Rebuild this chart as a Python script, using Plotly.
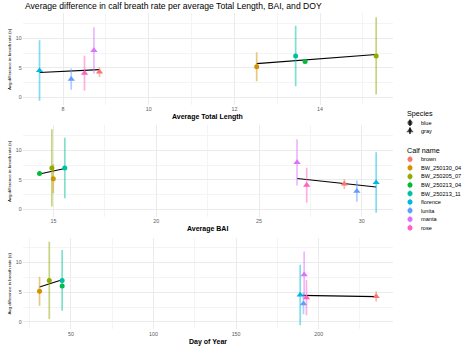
import plotly.graph_objects as go

# ---- data -------------------------------------------------------------
calves = ["brown", "BW_250130_04", "BW_250205_07", "BW_250213_04", "BW_250213_11",
          "florence", "lunita", "manta", "rose"]
species = ["gray", "blue", "blue", "blue", "blue", "gray", "gray", "gray", "gray"]
calf_colors = ["#F8766D", "#D39200", "#93AA00", "#00BA38", "#00C19F",
               "#00B9E3", "#619CFF", "#DB72FB", "#FF61C3"]

avg_diff = [4.3, 5.18, 7.0, 6.05, 7.0, 4.55, 3.1, 7.95, 4.1]
sd_diff = [0.85, 2.45, 6.5, None, 5.1, 5.1, 1.8, 3.9, 2.95]

avg_tl = [8.85, 12.52, 15.31, 13.65, 13.43, 7.45, 8.19, 8.72, 8.50]
avg_bai = [29.15, 14.99, 14.92, 14.32, 15.55, 30.70, 29.76, 26.85, 27.32]
avg_doy = [234.8, 31.0, 36.9, 44.7, 44.7, 188.8, 190.8, 191.2, 192.6]

# fitted trend values at each species' min and max x
trend_tl = {"blue": [5.72, 7.24], "gray": [4.21, 4.71]}
trend_bai = {"blue": [6.0, 6.9], "gray": [5.23, 3.81]}
trend_doy = {"blue": [5.88, 7.1], "gray": [4.48, 4.27]}

tl_ticks = [8, 10, 12, 14]
bai_ticks = [15, 20, 25, 30]
doy_ticks = [50, 100, 150, 200]
y_ticks = [0, 5, 10]

species_names = ["blue", "gray"]
species_symbols = {"blue": "circle", "gray": "triangle-up"}

# ---- layout helpers ---------------------------------------------------
W, H = 468, 349
FONT = "Liberation Sans, Arial, sans-serif"


def px_x(p):
    return p / W


def px_y(p):
    return 1 - p / H


def rgba(hex_color, a):
    h = hex_color.lstrip("#")
    r, g, b = int(h[0:2], 16), int(h[2:4], 16), int(h[4:6], 16)
    return f"rgba({r},{g},{b},{a})"


def expanded(vals):
    lo, hi = min(vals), max(vals)
    pad = (hi - lo) * 0.05
    return [lo - pad, hi + pad]


y_lo = [m - s for m, s in zip(avg_diff, sd_diff) if s is not None]
y_hi = [m + s for m, s in zip(avg_diff, sd_diff) if s is not None]
y_range = expanded(y_lo + y_hi)

panel_left, panel_right = 22.7, 393.0
panels = [
    # (x values, trend, ticks, minor ticks, title, top px, bottom px, title y px)
    (avg_tl, trend_tl, tl_ticks, [9, 11, 13, 15], "Average Total Length", 13.2, 105.0, 116.7),
    (avg_bai, trend_bai, bai_ticks, [17.5, 22.5, 27.5], "Average BAI", 125.2, 217.0, 229.0),
    (avg_doy, trend_doy, doy_ticks, [25, 75, 125, 175, 225], "Day of Year", 237.6, 329.4, 341.7),
]

fig = go.Figure()
annotations = []
shapes = []

for k, (xs, trend, ticks, minor_ticks, xtitle, top, bottom, title_y) in enumerate(panels):
    ax = "" if k == 0 else str(k + 1)
    xref, yref = "x" + ax, "y" + ax

    # trend line per species
    for sp in species_names:
        sx = [x for x, s in zip(xs, species) if s == sp]
        fig.add_trace(go.Scatter(
            x=[min(sx), max(sx)], y=trend[sp], mode="lines",
            line=dict(color="black", width=1.1),
            xaxis=xref, yaxis=yref, showlegend=False, hoverinfo="skip"))

    # mean +/- sd per calf
    for i, calf in enumerate(calves):
        err = dict(type="data", array=[sd_diff[i] or 0], symmetric=True,
                   color=rgba(calf_colors[i], 0.5), thickness=1.7, width=0,
                   visible=sd_diff[i] is not None)
        is_gray = species[i] == "gray"
        fig.add_trace(go.Scatter(
            x=[xs[i]], y=[avg_diff[i]], mode="markers",
            marker=dict(color=calf_colors[i], symbol=species_symbols[species[i]],
                        size=6.3 if is_gray else 5.0, line=dict(width=0)),
            error_y=err, name=calf, xaxis=xref, yaxis=yref, showlegend=False))

    common_font = dict(family=FONT, size=5.3, color="#5A5A5A")
    fig.update_layout({
        "xaxis" + ax: dict(
            domain=[px_x(panel_left), px_x(panel_right)],
            range=expanded(xs), anchor=yref,
            tickvals=ticks, ticks="", showline=False, zeroline=False,
            gridcolor="#EBEBEB", gridwidth=1, tickfont=common_font,
            minor=dict(tickvals=minor_ticks, showgrid=True, gridcolor="#F4F4F4", gridwidth=1),
            automargin=False, fixedrange=True),
        "yaxis" + ax: dict(
            domain=[px_y(bottom), px_y(top)],
            range=y_range, anchor=xref,
            tickvals=y_ticks, ticks="", showline=False, zeroline=False,
            gridcolor="#EBEBEB", gridwidth=1, tickfont=common_font,
            minor=dict(tickvals=[2.5, 7.5, 12.5], showgrid=True, gridcolor="#F4F4F4", gridwidth=1),
            automargin=False, fixedrange=True),
    })

    annotations.append(dict(
        text=f"<b>{xtitle}</b>", x=px_x((panel_left + panel_right) / 2), y=px_y(title_y),
        xref="paper", yref="paper", xanchor="center", yanchor="middle", showarrow=False,
        font=dict(family=FONT, size=7, color="black")))
    annotations.append(dict(
        text="Avg difference in breath rate (s)", x=px_x(9), y=px_y((top + bottom) / 2),
        xref="paper", yref="paper", xanchor="center", yanchor="middle", showarrow=False,
        textangle=-90, font=dict(family=FONT, size=4.4, color="black")))

# ---- legends, drawn on a hidden pixel-scaled axis ----------------------
leg_x0 = 398.0
fig.update_layout(
    xaxis4=dict(domain=[px_x(leg_x0), 1], range=[leg_x0, W], visible=False, fixedrange=True),
    yaxis4=dict(domain=[0, 1], range=[H, 0], visible=False, fixedrange=True),
)
key_x, text_x, title_x = 410.0, 418.5, 405.0
key_half = 3.3

species_y = [122.7, 130.7]
calf_y = [159.3 + 8.55 * i for i in range(len(calves))]

for sp, yy in zip(species_names, species_y):
    shapes.append(dict(type="line", xref="x4", yref="y4", x0=key_x, x1=key_x,
                       y0=yy - key_half, y1=yy + key_half, line=dict(color="black", width=1.3)))
fig.add_trace(go.Scatter(
    x=[key_x] * len(species_names), y=species_y, mode="markers",
    marker=dict(color="black", symbol=[species_symbols[s] for s in species_names],
                size=[5.0, 6.3], line=dict(width=0)),
    xaxis="x4", yaxis="y4", showlegend=False, hoverinfo="skip"))

for c, yy in zip(calf_colors, calf_y):
    shapes.append(dict(type="line", xref="x4", yref="y4", x0=key_x, x1=key_x,
                       y0=yy - key_half, y1=yy + key_half, line=dict(color=rgba(c, 0.6), width=1.3)))
fig.add_trace(go.Scatter(
    x=[key_x] * len(calves), y=calf_y, mode="markers",
    marker=dict(color=calf_colors, symbol="circle", size=5.0, line=dict(width=0)),
    xaxis="x4", yaxis="y4", showlegend=False, hoverinfo="skip"))

legend_font = dict(family=FONT, size=5.6, color="black")
title_font = dict(family=FONT, size=7.2, color="black")
annotations.append(dict(text="Species", x=title_x, y=113.3, xref="x4", yref="y4",
                        xanchor="left", yanchor="middle", showarrow=False, font=title_font))
annotations.append(dict(text="Calf name", x=title_x, y=150.0, xref="x4", yref="y4",
                        xanchor="left", yanchor="middle", showarrow=False, font=title_font))
for label, yy in list(zip(species_names, species_y)) + list(zip(calves, calf_y)):
    annotations.append(dict(text=label, x=text_x, y=yy, xref="x4", yref="y4",
                            xanchor="left", yanchor="middle", showarrow=False, font=legend_font))

annotations.append(dict(
    text="Average difference in calf breath rate per average Total Length, BAI, and DOY",
    x=px_x(22.7), y=px_y(5.6), xref="paper", yref="paper", xanchor="left", yanchor="middle",
    showarrow=False, font=dict(family=FONT, size=8.6, color="black")))

fig.update_layout(
    width=W, height=H, margin=dict(l=0, r=0, t=0, b=0),
    paper_bgcolor="white", plot_bgcolor="rgba(0,0,0,0)",
    showlegend=False, annotations=annotations, shapes=shapes,
    font=dict(family=FONT),
)

fig.write_html("out.html", config={"displayModeBar": False})
